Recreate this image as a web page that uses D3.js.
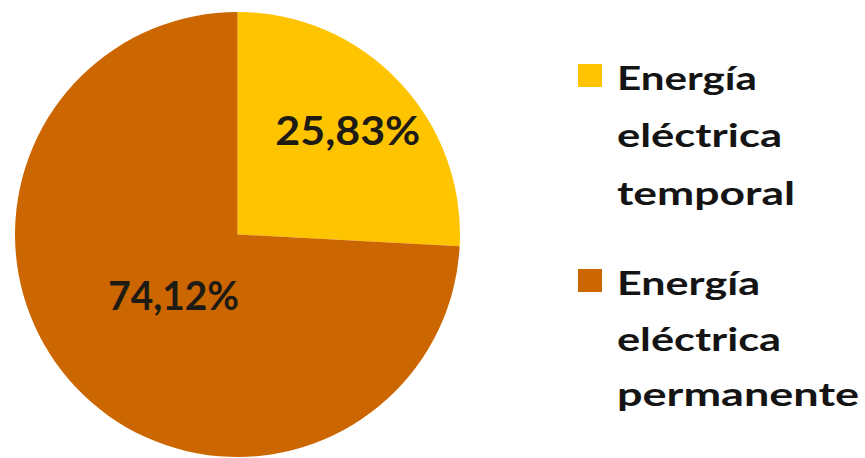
<!DOCTYPE html>
<html>
<head>
<meta charset="utf-8">
<script src="https://cdn.jsdelivr.net/npm/d3@7"></script>
<style>
  html, body { margin: 0; padding: 0; background: #fff; }
  svg { display: block; }
</style>
</head>
<body>
<svg id="chart" width="865" height="458"></svg>
<script>
// ---- data ----
const categories = ["Energía eléctrica temporal", "Energía eléctrica permanente"];
const values = [25.83, 74.12];
const valueLabels = ["25,83%", "74,12%"];
const legendLines = [["Energía", "eléctrica", "temporal"], ["Energía", "eléctrica", "permanente"]];

// ---- style ----
const colors = ["#FFC400", "#CC6600"];
const W = 865, H = 458;
const cx = 237.5, cy = 234.5, R = 222.5;
const labelRadius = [152, 88];
const labelFont = 41;
const labelWidths = [145, 131];
const legendX = 578, legendTextX = 617;
const legendTop = [64, 269];
const legendBaselines = [[90, 147, 205], [295, 351, 406]];
const legendWidths = [[140, 165, 178], [143, 164, 242]];
const legendFont = 32;
const font = "Lato, 'Open Sans', sans-serif";

const svg = d3.select("#chart");
const color = d3.scaleOrdinal().domain(categories).range(colors);

const pie = d3.pie().sort(null).value(d => d.v);
const data = categories.map((c, i) => ({c, v: values[i], label: valueLabels[i], i}));
const arcs = pie(data);
const arc = d3.arc().innerRadius(0).outerRadius(R);

const g = svg.append("g").attr("transform", `translate(${cx},${cy})`);
g.selectAll("path").data(arcs).join("path")
  .attr("d", arc)
  .attr("fill", d => color(d.data.c));

g.selectAll("text.val").data(arcs).join("text")
  .attr("class", "val")
  .attr("transform", d => {
    const r = labelRadius[d.data.i];
    const [x, y] = d3.arc().innerRadius(r).outerRadius(r).centroid(d);
    return `translate(${x},${y})`;
  })
  .attr("text-anchor", "middle")
  .attr("dy", "0.36em")
  .attr("font-family", font)
  .attr("font-weight", 700)
  .attr("font-size", labelFont)
  .attr("fill", "#1e1a14")
  .attr("textLength", d => labelWidths[d.data.i])
  .attr("lengthAdjust", "spacingAndGlyphs")
  .text(d => d.data.label);

// legend
const leg = svg.append("g");
categories.forEach((c, i) => {
  leg.append("rect")
    .attr("x", legendX).attr("y", legendTop[i])
    .attr("width", 24).attr("height", 23)
    .attr("fill", color(c));
  legendLines[i].forEach((line, j) => {
    leg.append("text")
      .attr("x", legendTextX)
      .attr("y", legendBaselines[i][j])
      .attr("font-family", font)
      .attr("font-weight", 700)
      .attr("font-size", legendFont)
      .attr("fill", "#141414")
      .attr("textLength", legendWidths[i][j])
      .attr("lengthAdjust", "spacingAndGlyphs")
      .text(line);
  });
});
</script>
</body>
</html>
